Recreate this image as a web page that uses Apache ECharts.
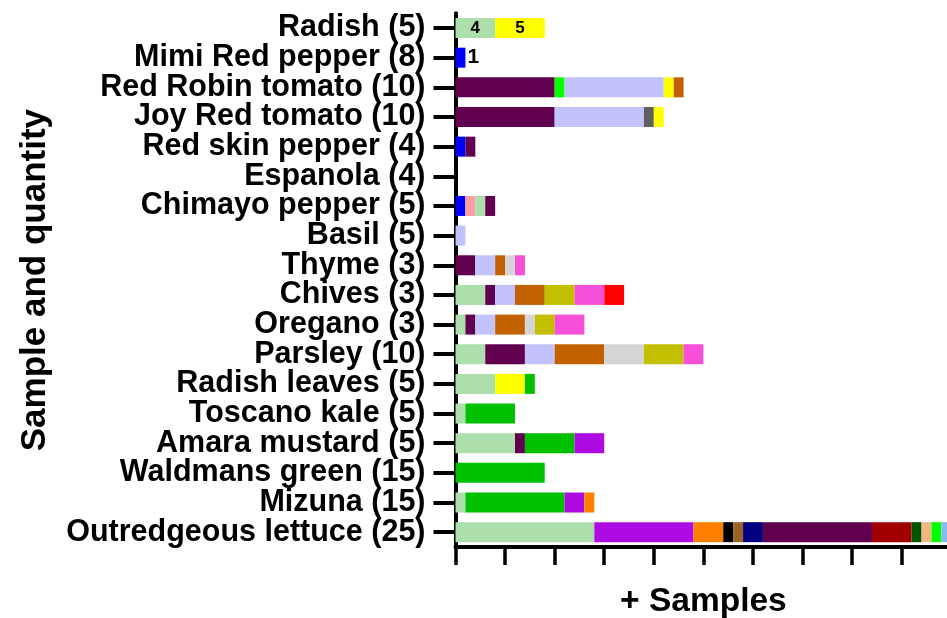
<!DOCTYPE html>
<html>
<head>
<meta charset="utf-8">
<title>Samples by plant</title>
<script src="https://cdn.jsdelivr.net/npm/echarts@6/dist/echarts.min.js"></script>
<style>
  html, body { margin: 0; padding: 0; background: #fff; }
  #chart { width: 947px; height: 618px; }
</style>
</head>
<body>
<div id="chart"></div>
<script>
// Sample names with their quantity, listed top to bottom
const categories = [
  'Radish (5)', 'Mimi Red pepper (8)', 'Red Robin tomato (10)', 'Joy Red tomato (10)',
  'Red skin pepper (4)', 'Espanola (4)', 'Chimayo pepper (5)', 'Basil (5)', 'Thyme (3)',
  'Chives (3)', 'Oregano (3)', 'Parsley (10)', 'Radish leaves (5)', 'Toscano kale (5)',
  'Amara mustard (5)', 'Waldmans green (15)', 'Mizuna (15)', 'Outredgeous lettuce (25)'
];

// Stacked segment values per sample, in stacking order (left to right)
const segmentValues = [
  [4, 5],
  [1],
  [10, 1, 10, 1, 1],
  [10, 9, 1, 1],
  [1, 1],
  [],
  [1, 1, 1, 1],
  [1],
  [2, 2, 1, 1, 1],
  [3, 1, 2, 3, 3, 3, 2],
  [1, 1, 2, 3, 1, 2, 3],
  [3, 4, 3, 5, 4, 4, 2],
  [4, 3, 1],
  [1, 5],
  [6, 1, 5, 3],
  [9],
  [1, 10, 2, 1],
  [14, 10, 3, 1, 1, 2, 11, 4, 1, 1, 1, 1]
];

// Group of each segment, matching segmentValues
const segmentGroups = [
  ['mint', 'yellow'],
  ['blue'],
  ['plum', 'lime', 'lavender', 'yellow', 'rust'],
  ['plum', 'lavender', 'grey', 'yellow'],
  ['blue', 'plum'],
  [],
  ['blue', 'salmon', 'mint', 'plum'],
  ['lavender'],
  ['plum', 'lavender', 'rust', 'silver', 'pink'],
  ['mint', 'plum', 'lavender', 'rust', 'olive', 'pink', 'red'],
  ['mint', 'plum', 'lavender', 'rust', 'silver', 'olive', 'pink'],
  ['mint', 'plum', 'lavender', 'rust', 'silver', 'olive', 'pink'],
  ['mint', 'yellow', 'green'],
  ['mint', 'green'],
  ['mint', 'plum', 'green', 'violet'],
  ['green'],
  ['mint', 'green', 'violet', 'orange'],
  ['mint', 'violet', 'orange', 'black', 'brown', 'navy', 'plum', 'maroon', 'forest', 'tan', 'lime', 'sky']
];

// Samples whose segment values are printed
const labelledSamples = ['Radish (5)', 'Mimi Red pepper (8)'];

const palette = {
  mint: '#ADDFAD', yellow: '#FFFF00', blue: '#0000FF', plum: '#620050',
  lime: '#00FF00', lavender: '#C2C2FF', grey: '#606060', rust: '#C26100',
  salmon: '#FFA0A0', silver: '#D5D5D5', pink: '#F650D8', olive: '#C2C000',
  red: '#FF0000', green: '#00C000', violet: '#AE0AE2', orange: '#FF8000',
  black: '#000000', brown: '#9A6324', navy: '#000080', maroon: '#A00000',
  forest: '#005500', tan: '#F2B880', sky: '#88B8F0'
};

const FONT = "'Liberation Sans', Arial, Helvetica, sans-serif";
const maxSegments = Math.max(...segmentValues.map(s => s.length));

const series = [];
for (let i = 0; i < maxSegments; i++) {
  series.push({
    type: 'bar',
    stack: 'total',
    barWidth: 20,
    animation: false,
    data: categories.map((cat, ci) => {
      const v = segmentValues[ci][i];
      if (v === undefined) return '-';
      const item = {
        value: v,
        itemStyle: { color: palette[segmentGroups[ci][i]] }
      };
      if (labelledSamples.includes(cat)) {
        // single narrow bars carry their value just outside, in a larger type
        const outside = segmentValues[ci].length === 1;
        item.label = {
          show: true,
          position: outside ? 'right' : 'inside',
          distance: 2,
          formatter: '{c}',
          color: '#000',
          fontFamily: FONT,
          fontWeight: 'bold',
          fontSize: outside ? 21 : 17
        };
      }
      return item;
    })
  });
}

const chart = echarts.init(document.getElementById('chart'), null, { renderer: 'canvas' });
chart.setOption({
  animation: false,
  backgroundColor: '#ffffff',
  grid: {
    left: 455.5, right: -4.3, top: 13.2, bottom: 71,
    containLabel: false,
    outerBoundsMode: 'none'
  },
  xAxis: {
    type: 'value',
    min: 0,
    max: 50,
    interval: 5,
    name: '+ Samples',
    nameLocation: 'middle',
    nameGap: 38,
    nameTextStyle: { fontFamily: FONT, fontWeight: 'bold', fontSize: 33.5, color: '#000' },
    axisLine: { show: true, lineStyle: { color: '#000', width: 4 } },
    axisTick: { show: true, length: 18, lineStyle: { color: '#000', width: 3.5 } },
    axisLabel: { show: false },
    splitLine: { show: false }
  },
  yAxis: {
    type: 'category',
    data: categories,
    inverse: true,
    name: 'Sample and quantity',
    nameLocation: 'middle',
    nameGap: 403,
    nameTextStyle: { fontFamily: FONT, fontWeight: 'bold', fontSize: 35, color: '#000' },
    axisLine: { show: true, lineStyle: { color: '#000', width: 4 } },
    axisTick: { show: true, interval: 0, alignWithLabel: true, length: 22, lineStyle: { color: '#000', width: 4 } },
    axisLabel: {
      interval: 0, hideOverlap: false,
      fontFamily: FONT, fontWeight: 'bold', fontSize: 30.5, color: '#000', margin: 30
    },
    splitLine: { show: false }
  },
  series: series
});
</script>
</body>
</html>
